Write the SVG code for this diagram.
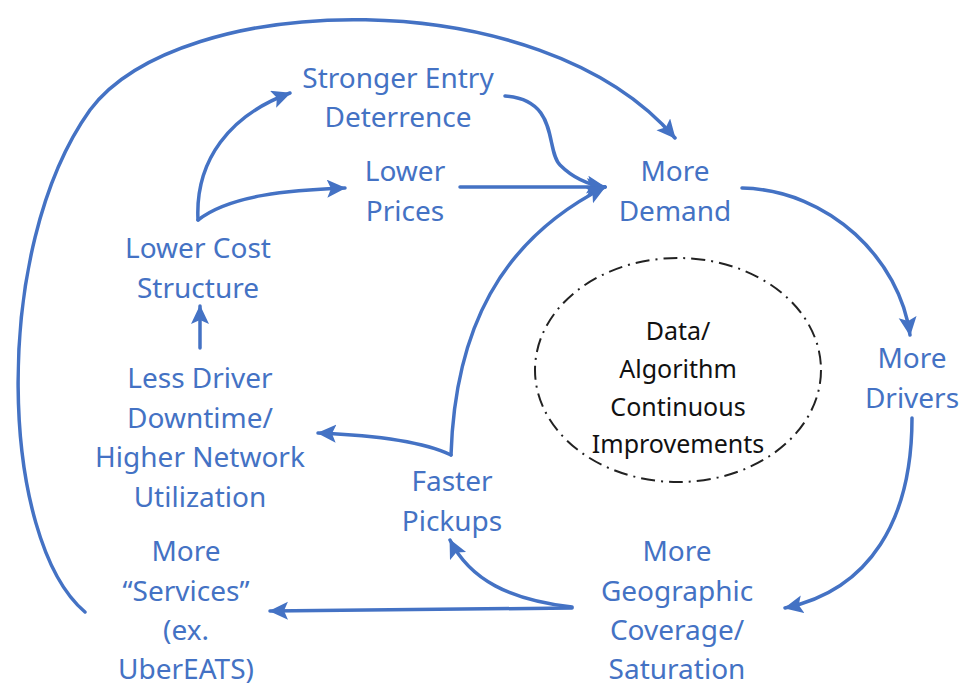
<svg xmlns="http://www.w3.org/2000/svg" width="963" height="689" viewBox="0 0 963 689">
<defs>
<marker id="ah" markerUnits="userSpaceOnUse" markerWidth="22" markerHeight="20" refX="18" refY="9" orient="auto">
<path d="M0,0 L19,9 L0,18 L4,9 Z" fill="#4472C4"/>
</marker>
<style>
.lbl{font-family:"Noto Sans","Open Sans",sans-serif;font-size:28px;fill:#4472C4;text-anchor:middle}
.blk{font-family:"Noto Sans","Open Sans",sans-serif;font-size:25px;fill:#111;text-anchor:middle}
.c{fill:none;stroke:#4472C4;stroke-width:3.5;stroke-linecap:round}
.a{marker-end:url(#ah)}
</style>
</defs>
<rect width="963" height="689" fill="#fff"/>
<g id="connectors">
<path class="c a" d="M85 612 C 0 540, -10 250, 90 110 C 180 -10, 540 -20, 675 138"/>
<path class="c a" d="M505 96 C 560 100, 545 150, 560 165 C 575 180, 590 185, 605 187"/>
<path class="c a" d="M460 187 L 605 187"/>
<path class="c a" d="M451 455 C 455 330, 500 240, 605 187"/>
<path class="c a" d="M198 220 C 195 160, 230 115, 290 93"/>
<path class="c a" d="M198 220 C 230 195, 290 190, 345 188"/>
<path class="c a" d="M200 348 L 200 306"/>
<path class="c a" d="M451 455 C 420 440, 370 435, 318 433"/>
<path class="c a" d="M742 188 C 830 190, 900 260, 910 335"/>
<path class="c a" d="M912 418 C 912 520, 870 590, 785 608"/>
<path class="c a" d="M572 608 L 270 611"/>
<path class="c a" d="M572 607 C 510 600, 470 580, 450 540"/>
</g>
<g id="center">
<ellipse cx="678" cy="370" rx="143" ry="112" fill="none" stroke="#222" stroke-width="2" stroke-dasharray="14,6,2,6"/>
<text class="blk" x="678" y="340">Data/</text>
<text class="blk" x="678" y="378">Algorithm</text>
<text class="blk" x="678" y="416">Continuous</text>
<text class="blk" x="678" y="453">Improvements</text>
</g>
<g id="stronger-entry"><text class="lbl" x="398" y="88">Stronger Entry</text><text class="lbl" x="398" y="127">Deterrence</text></g>
<g id="lower-prices"><text class="lbl" x="405" y="181">Lower</text><text class="lbl" x="405" y="221">Prices</text></g>
<g id="more-demand"><text class="lbl" x="675" y="181">More</text><text class="lbl" x="675" y="221">Demand</text></g>
<g id="lower-cost"><text class="lbl" x="198" y="258">Lower Cost</text><text class="lbl" x="198" y="298">Structure</text></g>
<g id="less-driver"><text class="lbl" x="200" y="388">Less Driver</text><text class="lbl" x="200" y="428">Downtime/</text><text class="lbl" x="200" y="467">Higher Network</text><text class="lbl" x="200" y="507">Utilization</text></g>
<g id="faster-pickups"><text class="lbl" x="452" y="491">Faster</text><text class="lbl" x="452" y="531">Pickups</text></g>
<g id="more-services"><text class="lbl" x="186" y="561">More</text><text class="lbl" x="186" y="601">“Services”</text><text class="lbl" x="186" y="640">(ex.</text><text class="lbl" x="186" y="679">UberEATS)</text></g>
<g id="more-geo"><text class="lbl" x="677" y="561">More</text><text class="lbl" x="677" y="601">Geographic</text><text class="lbl" x="677" y="640">Coverage/</text><text class="lbl" x="677" y="679">Saturation</text></g>
<g id="more-drivers"><text class="lbl" x="912" y="368">More</text><text class="lbl" x="912" y="408">Drivers</text></g>
</svg>
